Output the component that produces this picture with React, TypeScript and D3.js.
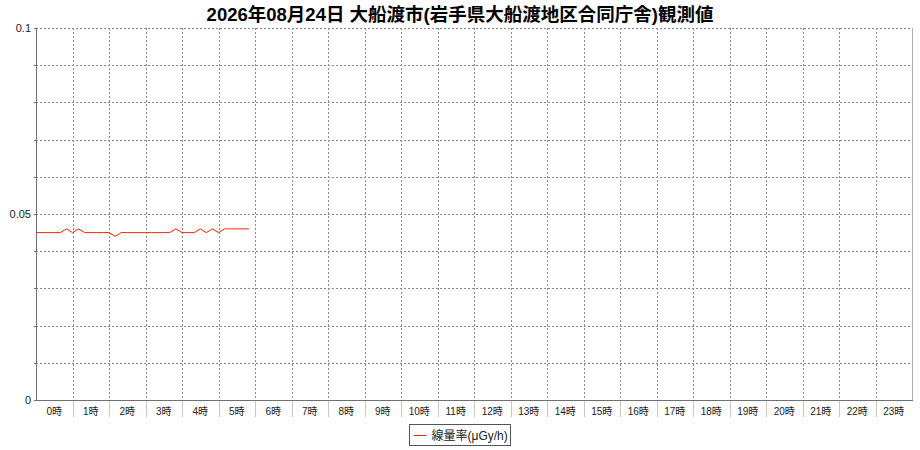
import { useEffect, useRef } from "react";
import * as d3 from "d3";

const title = "2026年08月24日 大船渡市(岩手県大船渡地区合同庁舎)観測値";
const seriesName = "線量率(μGy/h)";

const hourLabels = [
	"0時", "1時", "2時", "3時", "4時", "5時", "6時", "7時", "8時", "9時", "10時", "11時",
	"12時", "13時", "14時", "15時", "16時", "17時", "18時", "19時", "20時", "21時", "22時", "23時",
];

// observation times (HH:MM), every 10 minutes up to the latest reading
const times = [
	"0:00", "0:10", "0:20", "0:30", "0:40", "0:50",
	"1:00", "1:10", "1:20", "1:30", "1:40", "1:50",
	"2:00", "2:10", "2:20", "2:30", "2:40", "2:50",
	"3:00", "3:10", "3:20", "3:30", "3:40", "3:50",
	"4:00", "4:10", "4:20", "4:30", "4:40", "4:50",
	"5:00", "5:10", "5:20", "5:30", "5:40", "5:50",
];
const doseRates = [
	0.045, 0.045, 0.045, 0.045, 0.045, 0.046,
	0.045, 0.046, 0.045, 0.045, 0.045, 0.045,
	0.045, 0.044, 0.045, 0.045, 0.045, 0.045,
	0.045, 0.045, 0.045, 0.045, 0.045, 0.046,
	0.045, 0.045, 0.045, 0.046, 0.045, 0.046,
	0.045, 0.046, 0.046, 0.046, 0.046, 0.046,
];

const yTickLabels = [0, 0.05, 0.1];
const yGridValues = [0, 0.01, 0.02, 0.03, 0.04, 0.05, 0.06, 0.07, 0.08, 0.09, 0.1];

const width = 920;
const height = 450;
const margin = { top: 28, right: 8, bottom: 50, left: 36 };
const font = "'Liberation Sans', 'Noto Sans CJK JP', sans-serif";

function toHours(t: string): number {
	const [h, m] = t.split(":").map(Number);
	return h + m / 60;
}

function drawChart(svgEl: SVGSVGElement) {
	const svg = d3.select(svgEl);
	svg.selectAll("*").remove();

	const plotW = width - margin.left - margin.right;
	const plotH = height - margin.top - margin.bottom;
	const x = d3.scaleLinear().domain([0, 24]).range([margin.left, margin.left + plotW]);
	const band = d3.scaleBand().domain(hourLabels).range([margin.left, margin.left + plotW]);
	const y = d3.scaleLinear().domain([0, 0.1]).range([margin.top + plotH, margin.top]);

	svg.append("rect")
		.attr("width", width)
		.attr("height", height)
		.attr("fill", "#fff");

	// plot border (right side light gray)
	svg.append("line")
		.attr("x1", x(24) + 0.5).attr("x2", x(24) + 0.5)
		.attr("y1", y(0.1)).attr("y2", y(0))
		.attr("stroke", "#b0b0b0");

	// horizontal grid
	svg.append("g")
		.selectAll("line")
		.data(yGridValues.filter((v) => v > 0))
		.join("line")
		.attr("x1", x(0)).attr("x2", x(24))
		.attr("y1", (d) => Math.round(y(d)) + 0.5)
		.attr("y2", (d) => Math.round(y(d)) + 0.5)
		.attr("stroke", "#8c8c8c")
		.attr("stroke-dasharray", "2,2");

	// vertical grid at hour boundaries
	const bounds = hourLabels.slice(1).map((h) => band(h) ?? 0);
	svg.append("g")
		.selectAll("line")
		.data(bounds)
		.join("line")
		.attr("x1", (d) => Math.round(d) + 0.5)
		.attr("x2", (d) => Math.round(d) + 0.5)
		.attr("y1", y(0.1)).attr("y2", y(0))
		.attr("stroke", "#8c8c8c")
		.attr("stroke-dasharray", "2,2");

	// separators below the x axis
	svg.append("g")
		.selectAll("line")
		.data(bounds)
		.join("line")
		.attr("x1", (d) => Math.round(d) + 0.5)
		.attr("x2", (d) => Math.round(d) + 0.5)
		.attr("y1", y(0)).attr("y2", y(0) + 17)
		.attr("stroke", "#c8c8c8");

	// axes
	svg.append("line")
		.attr("x1", margin.left + 0.5).attr("x2", margin.left + 0.5)
		.attr("y1", y(0.1)).attr("y2", y(0) + 0.5)
		.attr("stroke", "#707070");
	svg.append("line")
		.attr("x1", margin.left).attr("x2", x(24) + 1)
		.attr("y1", y(0) + 0.5).attr("y2", y(0) + 0.5)
		.attr("stroke", "#707070");

	// y ticks
	svg.append("g")
		.selectAll("line")
		.data(yGridValues)
		.join("line")
		.attr("x1", margin.left - 2).attr("x2", margin.left)
		.attr("y1", (d) => Math.round(y(d)) + 0.5)
		.attr("y2", (d) => Math.round(y(d)) + 0.5)
		.attr("stroke", "#707070");

	svg.append("g")
		.selectAll("text")
		.data(yTickLabels)
		.join("text")
		.attr("x", margin.left - 5)
		.attr("y", (d) => y(d) + 4)
		.attr("text-anchor", "end")
		.attr("font-family", font)
		.attr("font-size", 11)
		.attr("fill", "#222")
		.text((d) => String(d));

	// x labels
	svg.append("g")
		.selectAll("text")
		.data(hourLabels)
		.join("text")
		.attr("x", (d) => (band(d) ?? 0) + band.bandwidth() / 2)
		.attr("y", y(0) + 15)
		.attr("text-anchor", "middle")
		.attr("font-family", font)
		.attr("font-size", 10)
		.attr("fill", "#222")
		.text((d) => d);

	// series
	const line = d3.line<number>()
		.x((_, i) => x(toHours(times[i])))
		.y((d) => y(d));
	svg.append("path")
		.datum(doseRates)
		.attr("d", line)
		.attr("fill", "none")
		.attr("stroke", "#ff2200")
		.attr("stroke-width", 1);

	// title
	svg.append("text")
		.attr("x", width / 2)
		.attr("y", 21)
		.attr("text-anchor", "middle")
		.attr("font-family", font)
		.attr("font-weight", "bold")
		.attr("font-size", 18.5)
		.attr("fill", "#000")
		.text(title);

	// legend
	const lg = svg.append("g").attr("transform", "translate(409.5,424.5)");
	lg.append("rect")
		.attr("width", 101)
		.attr("height", 21)
		.attr("fill", "#fff")
		.attr("stroke", "#555");
	lg.append("line")
		.attr("x1", 4).attr("x2", 17)
		.attr("y1", 11).attr("y2", 11)
		.attr("stroke", "#ff2200");
	lg.append("text")
		.attr("x", 22)
		.attr("y", 15)
		.attr("font-family", font)
		.attr("font-size", 12)
		.attr("fill", "#222")
		.text(seriesName);
}

export default function App() {
	const svgRef = useRef<SVGSVGElement>(null);

	useEffect(() => {
		if (svgRef.current) drawChart(svgRef.current);
	}, []);

	return (
		<svg
			ref={svgRef}
			width={width}
			height={height}
			style={{ position: "absolute", left: 0, top: 0, display: "block" }}
		/>
	);
}
